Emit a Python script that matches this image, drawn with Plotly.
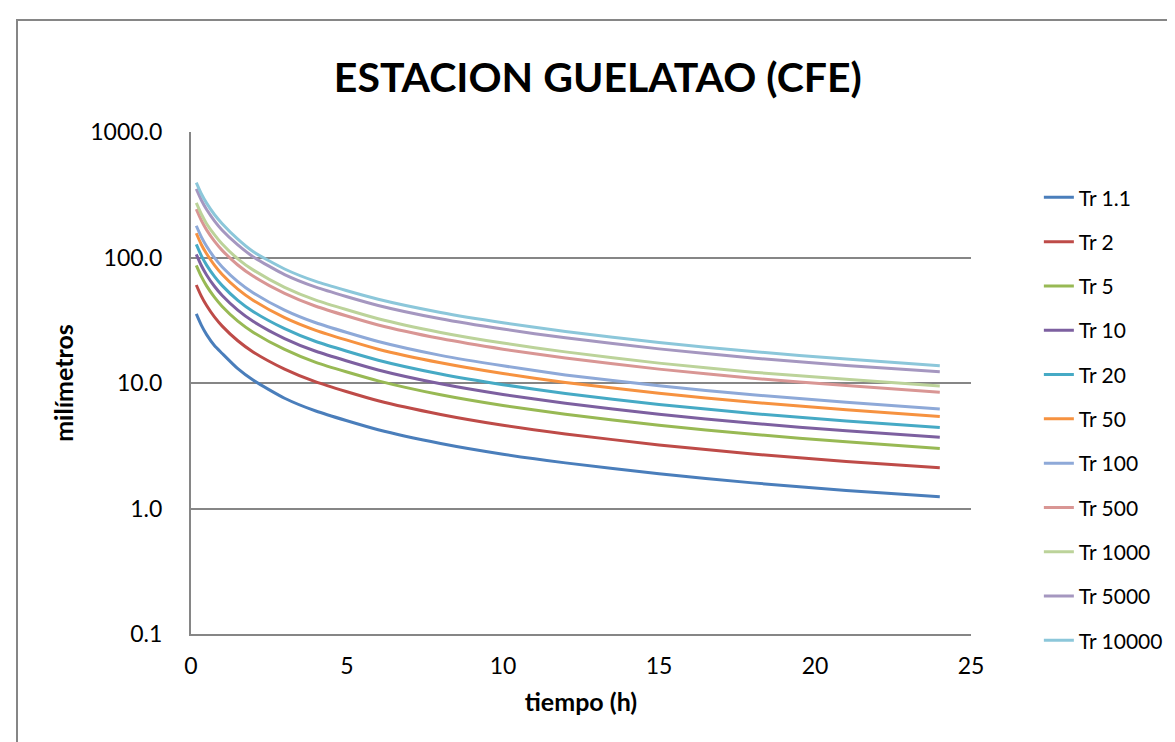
import plotly.graph_objects as go

# Durations (hours)
tiempo = [0.17, 0.33, 0.5, 0.75, 1, 1.5, 2, 3, 4, 6, 8, 10, 12, 15, 18, 21, 24]

tr_1_1 = [35.5, 28.9, 24.3, 19.9, 17.2, 13.0, 10.5, 7.56, 5.98, 4.24, 3.30, 2.71, 2.31, 1.89, 1.60, 1.39, 1.24]
tr_2 = [60.4, 49.2, 41.4, 33.6, 28.4, 21.7, 17.6, 12.9, 10.2, 7.22, 5.62, 4.61, 3.93, 3.21, 2.72, 2.37, 2.11]
tr_5 = [86.7, 70.7, 59.4, 48.3, 40.7, 31.1, 25.3, 18.5, 14.6, 10.4, 8.06, 6.62, 5.64, 4.60, 3.90, 3.40, 3.01]
tr_10 = [106, 86.4, 72.6, 59.0, 49.8, 38.1, 30.9, 22.6, 17.9, 12.7, 9.86, 8.10, 6.89, 5.63, 4.77, 4.16, 3.69]
tr_20 = [127, 103.5, 87.0, 70.7, 59.7, 45.6, 37.0, 27.1, 21.4, 15.2, 11.8, 9.70, 8.26, 6.74, 5.72, 4.98, 4.41]
tr_50 = [156, 127, 107, 86.9, 73.3, 56.0, 45.5, 33.2, 26.3, 18.6, 14.5, 11.9, 10.1, 8.28, 7.02, 6.12, 5.42]
tr_100 = [179, 146, 123, 99.7, 84.1, 64.3, 52.2, 38.1, 30.2, 21.4, 16.6, 13.7, 11.6, 9.50, 8.06, 7.02, 6.21]
tr_500 = [243, 198, 166, 135, 114, 87.2, 70.8, 51.8, 40.9, 29.0, 22.6, 18.6, 15.8, 12.9, 10.9, 9.53, 8.43]
tr_1000 = [272, 222, 186, 152, 128, 97.6, 79.3, 57.9, 45.8, 32.5, 25.3, 20.8, 17.7, 14.4, 12.2, 10.7, 9.46]
tr_5000 = [352, 287, 241, 196, 165, 126, 101, 73.0, 58.0, 41.5, 32.5, 26.9, 22.9, 18.7, 15.8, 13.8, 12.3]
tr_10000 = [395, 322, 271, 220, 186, 140, 111, 81.0, 64.5, 46.5, 36.5, 30.2, 25.7, 21.0, 17.8, 15.5, 13.7]

series_names = ["Tr 1.1", "Tr 2", "Tr 5", "Tr 10", "Tr 20", "Tr 50",
                "Tr 100", "Tr 500", "Tr 1000", "Tr 5000", "Tr 10000"]
series_values = [tr_1_1, tr_2, tr_5, tr_10, tr_20, tr_50,
                 tr_100, tr_500, tr_1000, tr_5000, tr_10000]
colors = ["#4A7EBB", "#BE4B48", "#98B954", "#7D60A0", "#46AAC5", "#F69240",
          "#8EA9D8", "#D99694", "#BCD39A", "#A597C0", "#8CC7DA"]

y_tickvals = [0.1, 1, 10, 100, 1000]
y_ticktext = ["0.1", "1.0", "10.0", "100.0", "1000.0"]
x_tickvals = [0, 5, 10, 15, 20, 25]

FONT = "Lato, 'Open Sans', sans-serif"
GRID = "#868686"

fig = go.Figure()
for i, (name, vals, col) in enumerate(zip(series_names, series_values, colors)):
    fig.add_trace(go.Scatter(
        x=tiempo, y=vals, mode="lines", name=name,
        line=dict(color=col, width=3, shape="spline", smoothing=0.6),
        legendgroup=f"g{i}",
    ))

fig.update_layout(
    width=1175, height=742,
    margin=dict(l=183, r=212, t=124, b=116),
    paper_bgcolor="white", plot_bgcolor="white",
    font=dict(family=FONT, size=23, color="#000000"),
    title=dict(text="<b>ESTACION GUELATAO (CFE)</b>", x=0.502, xanchor="center",
               y=1 - 70 / 742, yanchor="middle", yref="container",
               font=dict(family=FONT, size=41, color="#000000")),
    showlegend=True,
    legend=dict(x=1.087, xanchor="left", y=0.91, yanchor="top",
                font=dict(family=FONT, size=21),
                tracegroupgap=14, bgcolor="rgba(0,0,0,0)"),
    xaxis=dict(range=[0, 25], tickvals=x_tickvals, showgrid=False,
               showline=True, linecolor=GRID, linewidth=2, ticks="",
               zeroline=False, tickfont=dict(size=23), ticklabelstandoff=10,
               title=dict(text="<b>tiempo (h)</b>", font=dict(size=25), standoff=16)),
    yaxis=dict(type="log", range=[-1, 3], tickvals=y_tickvals, ticktext=y_ticktext,
               showgrid=True, gridcolor=GRID, gridwidth=1.5,
               showline=True, linecolor=GRID, linewidth=2, ticks="",
               zeroline=False, tickfont=dict(size=23), ticklabelstandoff=22,
               title=dict(text="<b>milímetros</b>", font=dict(size=25), standoff=10)),
)

# Outer chart border (grey frame)
fig.add_shape(type="rect", xref="paper", yref="paper",
              x0=(9 - 183) / 780, x1=(1190 - 183) / 780,
              y0=(626 - 760) / 502, y1=(626 - 12) / 502,
              line=dict(color=GRID, width=2), fillcolor="rgba(0,0,0,0)", layer="below")

fig.write_html("out.html")
